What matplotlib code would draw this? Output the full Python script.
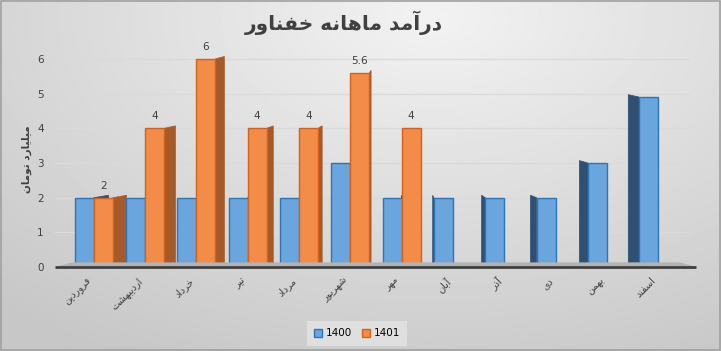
import matplotlib.pyplot as plt
import numpy as np
from matplotlib.patches import Polygon, Rectangle

# Data
months = ['فروردین', 'اردیبهشت', 'خرداد', 'تیر', 'مرداد', 'شهریور',
          'مهر', 'آبان', 'آذر', 'دی', 'بهمن', 'اسفند']
sales_1400 = [2, 2, 2, 2, 2, 3, 2, 2, 2, 2, 3, 4.9]
sales_1401 = [2, 4, 6, 4, 4, 5.6, 4, None, None, None, None, None]
title = 'درآمد ماهانه خفناور'
ylabel = 'میلیارد تومان'

# simple Persian shaping (matplotlib does not join Arabic letters)
FORMS = {
    'ا': ('\uFE8D', '\uFE8E'), 'آ': ('\uFE81', '\uFE82'),
    'د': ('\uFEA9', '\uFEAA'), 'ذ': ('\uFEAB', '\uFEAC'),
    'ر': ('\uFEAD', '\uFEAE'), 'ز': ('\uFEAF', '\uFEB0'),
    'و': ('\uFEED', '\uFEEE'),
    'ب': ('\uFE8F', '\uFE90', '\uFE91', '\uFE92'),
    'ت': ('\uFE95', '\uFE96', '\uFE97', '\uFE98'),
    'خ': ('\uFEA5', '\uFEA6', '\uFEA7', '\uFEA8'),
    'س': ('\uFEB1', '\uFEB2', '\uFEB3', '\uFEB4'),
    'ش': ('\uFEB5', '\uFEB6', '\uFEB7', '\uFEB8'),
    'ف': ('\uFED1', '\uFED2', '\uFED3', '\uFED4'),
    'ل': ('\uFEDD', '\uFEDE', '\uFEDF', '\uFEE0'),
    'م': ('\uFEE1', '\uFEE2', '\uFEE3', '\uFEE4'),
    'ن': ('\uFEE5', '\uFEE6', '\uFEE7', '\uFEE8'),
    'ه': ('\uFEE9', '\uFEEA', '\uFEEB', '\uFEEC'),
    'ی': ('\uFBFC', '\uFBFD', '\uFBFE', '\uFBFF'),
}


def fa(text):
    out = []
    for i, ch in enumerate(text):
        if ch not in FORMS:
            out.append(ch)
            continue
        prev = text[i - 1] if i > 0 else ''
        nxt = text[i + 1] if i + 1 < len(text) else ''
        jp = prev in FORMS and len(FORMS[prev]) == 4
        jn = len(FORMS[ch]) == 4 and nxt in FORMS
        f = FORMS[ch]
        if jp and jn:
            out.append(f[3])
        elif jp:
            out.append(f[1])
        elif jn:
            out.append(f[2])
        else:
            out.append(f[0])
    return ''.join(reversed(out))


plt.rcParams['font.family'] = ['DejaVu Sans']

fig = plt.figure(figsize=(7.21, 3.51), dpi=100)

# background gradient
bg = fig.add_axes([0, 0, 1, 1], zorder=-10)
yy, xx = np.mgrid[0:1:200j, 0:1:400j]
r = np.sqrt(((xx - 0.6) / 0.9) ** 2 + ((yy - 0.05) / 1.1) ** 2)
bg.imshow(0.95 - 0.17 * np.clip(r, 0, 1), cmap='gray', vmin=0, vmax=1,
          aspect='auto', extent=[0, 1, 0, 1], origin='upper')
bg.add_patch(Rectangle((0.001, 0.002), 0.998, 0.996, fill=False,
                       edgecolor='#a0a0a0', lw=1.2, transform=bg.transAxes))
bg.axis('off')

ax = fig.add_axes([0.076, 0.239, 0.881, 0.613])
ax.patch.set_alpha(0)

x = np.arange(len(months))
w = 0.37
v1401 = [np.nan if v is None else v for v in sales_1401]
b1 = ax.bar(x - w / 2, sales_1400, w, color='#6aa5de', edgecolor='#2e75b6',
            lw=1, label='1400', zorder=3)
b2 = ax.bar(x + w / 2, v1401, w, color='#f28c48', edgecolor='#d2621c',
            lw=1, label='1401', zorder=4)

# fake 3D side faces (perspective towards a point in the middle)
xv, k, dy = 6.1, 0.047, 0.07
for bars, side in ((b1, '#2f4f73'), (b2, '#a65a2a')):
    for rect in bars:
        h = rect.get_height()
        if not np.isfinite(h):
            continue
        xl = rect.get_x()
        xr = xl + rect.get_width()
        if xr < xv:
            dx = k * (xv - xr)
            pts = [(xr, 0), (xr, h), (xr + dx, h + dy), (xr + dx, 0)]
        else:
            dx = max(0.0, k * (xl - xv))
            if dx < 0.01:
                continue
            pts = [(xl, 0), (xl, h), (xl - dx, h + dy), (xl - dx, 0)]
        ax.add_patch(Polygon(pts, closed=True, facecolor=side,
                             edgecolor=side, lw=0.5, zorder=2))

# data labels on 1401
for rect, v in zip(b2, sales_1401):
    if v is None:
        continue
    ax.annotate(f'{v:g}', xy=(rect.get_x() + rect.get_width() / 2, v),
                xytext=(0, 5), textcoords='offset points',
                ha='center', va='bottom', fontsize=7.5, color='#404040')

# floor
floor = Polygon([(0.0, 0.0), (0.027, 0.022), (0.985, 0.022), (1.01, 0.0)],
                closed=True, facecolor='#b3b3b3', edgecolor='none',
                transform=ax.transAxes, zorder=5, clip_on=False)
ax.add_patch(floor)
ax.plot([0, 1.01], [0, 0], color='#404040', lw=2, transform=ax.transAxes,
        zorder=6, clip_on=False, solid_capstyle='butt')

ax.set_xlim(-0.76, 11.62)
ax.set_ylim(0, 6.2)
ax.set_yticks(range(7))
ax.yaxis.grid(True, color='#dadada', lw=1)
ax.set_axisbelow(True)
for s in ax.spines.values():
    s.set_visible(False)
ax.tick_params(axis='y', length=0, labelsize=7.5, labelcolor='#404040', pad=8)
ax.tick_params(axis='x', length=0, pad=6)
ax.set_xticks(x - 0.15)
ax.set_xticklabels([fa(m) for m in months], rotation=45, ha='right',
                   rotation_mode='anchor', fontsize=7, color='#404040')

ax.set_ylabel(fa(ylabel), fontsize=7.5, fontweight='bold', color='#404040',
              labelpad=4)

fig.text(0.477, 0.935, fa(title), ha='center', va='center', fontsize=14.5,
         fontweight='bold', color='#404040')

leg = fig.legend(loc='center', bbox_to_anchor=(0.495, 0.05), ncol=2,
                 fontsize=7.5, frameon=True, handlelength=0.8,
                 handleheight=0.8, columnspacing=1.0, handletextpad=0.3,
                 borderpad=0.4)
leg.get_frame().set_facecolor('#e4e4e4')
leg.get_frame().set_edgecolor('none')
leg.get_frame().set_boxstyle('square')

fig.savefig('out.png', dpi=100)
